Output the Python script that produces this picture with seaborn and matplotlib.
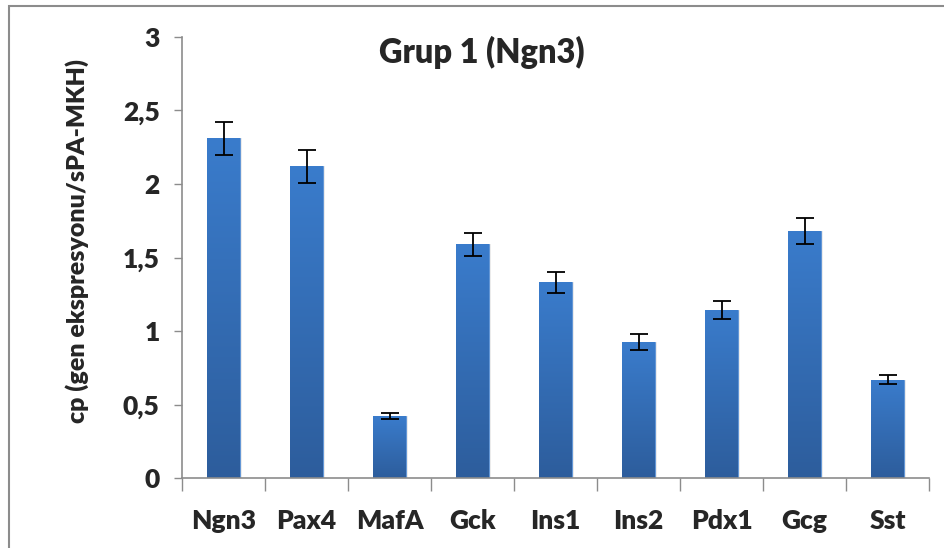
import numpy as np
import pandas as pd
import matplotlib
matplotlib.use("Agg")
import matplotlib.pyplot as plt
from matplotlib.patches import Rectangle
from matplotlib.colors import LinearSegmentedColormap
import seaborn as sns

genes = ["Ngn3", "Pax4", "MafA", "Gck", "Ins1", "Ins2", "Pdx1", "Gcg", "Sst"]
values = [2.31, 2.12, 0.42, 1.59, 1.33, 0.925, 1.145, 1.68, 0.67]
errors = [0.11, 0.11, 0.02, 0.08, 0.07, 0.055, 0.06, 0.09, 0.03]
yticks = [0, 0.5, 1, 1.5, 2, 2.5, 3]
ytick_labels = ["0", "0,5", "1", "1,5", "2", "2,5", "3"]

df = pd.DataFrame({"gen": genes, "cp": values})

sns.set_style("white")
plt.rcParams["font.family"] = ["Lato", "DejaVu Sans"]
W = "heavy"

fig = plt.figure(figsize=(9.45, 5.48), dpi=100)
ax = fig.add_axes([0.1926, 0.1277, 0.7905, 0.8048])

sns.barplot(data=df, x="gen", y="cp", color="#3572c0", width=0.39,
            errorbar=None, ax=ax, zorder=2)

# gradient fill clipped to each bar
grad_cmap = LinearSegmentedColormap.from_list("g", ["#2d5d9c", "#3a7ccc"])
grad = np.linspace(0, 1, 256).reshape(-1, 1)
for p in ax.patches:
    x0, w, h = p.get_x(), p.get_width(), p.get_height()
    p.set_edgecolor("#5a93d8")
    p.set_linewidth(0.6)
    # soft shadow
    sh = Rectangle((x0 + 0.015, 0), w + 0.01, h, facecolor="#000000",
                   alpha=0.08, edgecolor="none", zorder=1)
    ax.add_patch(sh)
    im = ax.imshow(grad, cmap=grad_cmap, origin="lower", aspect="auto",
                   extent=(x0, x0 + w, 0, h), zorder=2.5)
    im.set_clip_path(p)

ax.errorbar(range(len(genes)), values, yerr=errors, fmt="none",
            ecolor="black", elinewidth=1.3, capsize=6.5, capthick=1.3, zorder=4)

ax.set_xlim(-0.5, len(genes) - 0.5)
ax.set_ylim(0, 3)
ax.set_yticks(yticks)
ax.set_yticklabels(ytick_labels, fontsize=19, fontweight=W)
ax.set_xticks(range(len(genes)))
ax.set_xticklabels(genes, fontsize=19, fontweight=W)
ax.tick_params(axis="x", length=0, pad=22)
ax.tick_params(axis="y", length=6, width=1, color="#8c8c8c", pad=10, direction="out", left=True)
# minor ticks between categories on x axis
ax.set_xticks(np.arange(-0.5, len(genes), 1), minor=True)
ax.tick_params(axis="x", which="minor", length=9, width=1, color="#8c8c8c", direction="out", bottom=True)

for s in ["top", "right"]:
    ax.spines[s].set_visible(False)
for s in ["left", "bottom"]:
    ax.spines[s].set_color("#8c8c8c")
    ax.spines[s].set_linewidth(1.2)

ax.set_xlabel("")
ax.set_ylabel("")
fig.text(0.082, 0.56, "cp (gen ekspresyonu/sPA-MKH)", rotation=90,
         ha="center", va="center", fontsize=18, fontweight=W)
fig.text(0.51, 0.905, "Grup 1 (Ngn3)", ha="center", va="center",
         fontsize=23.5, fontweight=W)

border = Rectangle((0.009, -0.1), 1.2, 1.089, transform=fig.transFigure,
                   facecolor="none", edgecolor="#8c8c8c", linewidth=1.5)
fig.patches.append(border)

fig.savefig("out.png", dpi=100)
